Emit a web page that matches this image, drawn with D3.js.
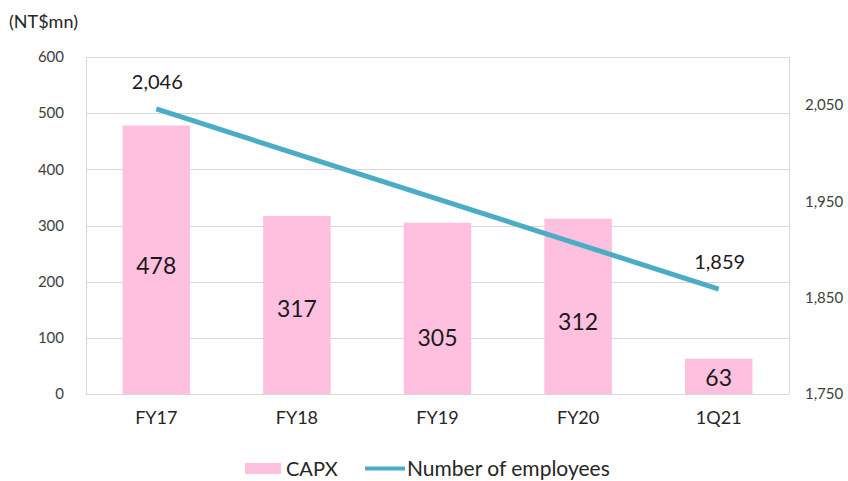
<!DOCTYPE html>
<html>
<head>
<meta charset="utf-8">
<script src="https://cdn.jsdelivr.net/npm/d3@7"></script>
<style>
  body { margin: 0; background: #fff; }
  svg text { font-family: Lato, "Open Sans", sans-serif; }
</style>
</head>
<body>
<svg id="chart" width="848" height="481"></svg>
<script>
// chart data
var categories = ['FY17', 'FY18', 'FY19', 'FY20', '1Q21'];
var capex = [478, 317, 305, 312, 63];
var employees = [2046, null, null, null, 1859];
var leftTicks = [0, 100, 200, 300, 400, 500, 600];
var rightTicks = [1750, 1850, 1950, 2050];

// labels were nudged off-centre in the original to dodge the line
var labelNudge = [6, 4, 29, 15, 1];

var svg = d3.select('#chart'),
    plotLeft = 86, plotRight = 789, plotTop = 57, plotBottom = 394;

var x = d3.scaleBand().domain(categories).range([plotLeft, plotRight]).paddingInner(0.52).paddingOuter(0.26),
    xc = d3.scaleBand().domain(categories).range([plotLeft, plotRight]),
    y = d3.scaleLinear().domain([0, 600]).range([plotBottom, plotTop]),
    y2 = d3.scaleLinear().domain([1750, 2100]).range([plotBottom, plotTop]);

var fmt = d3.format(',');

// gridlines
svg.append('g').selectAll('line').data(leftTicks).enter().append('line')
  .attr('x1', plotLeft).attr('x2', plotRight)
  .attr('y1', function(d) { return Math.round(y(d)) + 0.5; })
  .attr('y2', function(d) { return Math.round(y(d)) + 0.5; })
  .attr('stroke', '#d9d9d9').attr('stroke-width', 1);

// plot border sides
svg.append('line').attr('x1', plotLeft + 0.5).attr('x2', plotLeft + 0.5).attr('y1', plotTop).attr('y2', plotBottom)
  .attr('stroke', '#d9d9d9');
svg.append('line').attr('x1', plotRight + 0.5).attr('x2', plotRight + 0.5).attr('y1', plotTop).attr('y2', plotBottom)
  .attr('stroke', '#d9d9d9');

// left axis
var yAxis = d3.axisLeft(y).tickValues(leftTicks).tickSize(0).tickPadding(0);
svg.append('g').attr('transform', 'translate(64,0)').call(yAxis)
  .call(function(g) { g.select('.domain').remove(); })
  .selectAll('text').attr('font-size', 15).attr('fill', '#404040')
  .attr('font-family', 'Lato, sans-serif');

// right axis
var y2Axis = d3.axisRight(y2).tickValues(rightTicks).tickSize(0).tickPadding(16).tickFormat(fmt);
svg.append('g').attr('transform', 'translate(' + plotRight + ',0)').call(y2Axis)
  .call(function(g) { g.select('.domain').remove(); })
  .selectAll('text').attr('font-size', 15).attr('fill', '#404040')
  .attr('font-family', 'Lato, sans-serif');

// category labels
var xAxis = d3.axisBottom(xc).tickSize(0).tickPadding(17);
svg.append('g').attr('transform', 'translate(0,' + plotBottom + ')').call(xAxis)
  .call(function(g) { g.select('.domain').remove(); })
  .selectAll('text').attr('font-size', 18).attr('fill', '#262626')
  .attr('font-family', 'Lato, sans-serif');

// bars
var bars = svg.append('g').selectAll('g').data(capex).enter().append('g');
bars.append('rect')
  .attr('x', function(d, i) { return x(categories[i]); })
  .attr('width', x.bandwidth())
  .attr('y', function(d) { return y(d); })
  .attr('height', function(d) { return y(0) - y(d); })
  .attr('fill', '#ffc0e0');
bars.append('text')
  .attr('x', function(d, i) { return xc(categories[i]) + xc.bandwidth() / 2; })
  .attr('y', function(d, i) { return (y(d) + y(0)) / 2 + 8.5 + labelNudge[i]; })
  .attr('text-anchor', 'middle')
  .attr('font-size', 23).attr('fill', '#1a1a1a')
  .text(function(d) { return d; });

// employees line (only endpoints reported)
var pts = employees.map(function(v, i) { return { c: categories[i], v: v }; })
  .filter(function(p) { return p.v !== null; });
var line = d3.line()
  .x(function(p) { return xc(p.c) + xc.bandwidth() / 2; })
  .y(function(p) { return y2(p.v); });
svg.append('path').datum(pts).attr('d', line)
  .attr('fill', 'none').attr('stroke', '#4bacc6').attr('stroke-width', 5);
svg.append('g').selectAll('text').data(pts).enter().append('text')
  .attr('x', function(p) { return xc(p.c) + xc.bandwidth() / 2 + 1; })
  .attr('y', function(p) { return y2(p.v) - 20; })
  .attr('text-anchor', 'middle')
  .attr('font-size', 20).attr('fill', '#1a1a1a')
  .text(function(p) { return fmt(p.v); });

// unit label
svg.append('text').attr('x', 9).attr('y', 28).attr('font-size', 18).attr('fill', '#262626')
  .text('(NT$mn)');

// legend
var lg = svg.append('g');
lg.append('rect').attr('x', 245).attr('y', 463).attr('width', 36).attr('height', 11).attr('fill', '#ffc0e0');
lg.append('text').attr('x', 286).attr('y', 476).attr('font-size', 20).attr('fill', '#262626').text('CAPX');
lg.append('line').attr('x1', 365).attr('x2', 405).attr('y1', 468.5).attr('y2', 468.5)
  .attr('stroke', '#4bacc6').attr('stroke-width', 4);
lg.append('text').attr('x', 407).attr('y', 476).attr('font-size', 21).attr('fill', '#262626').text('Number of employees');
</script>
</body>
</html>
